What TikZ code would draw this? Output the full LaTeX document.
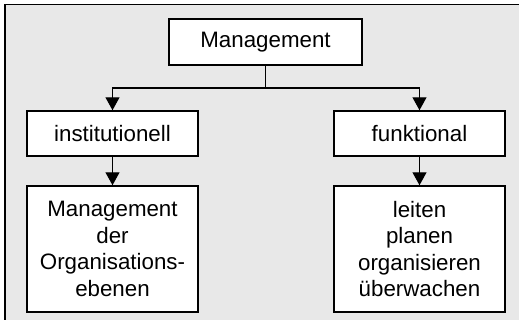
\documentclass[tikz,border=0pt]{standalone}
\usepackage{fontspec}
\setmainfont{Liberation Sans}
\usetikzlibrary{arrows.meta}
\definecolor{panel}{HTML}{E8E8E8}
\begin{document}
\begin{tikzpicture}[x=1bp,y=-1bp,
  box/.style={draw=black, fill=white, line width=1.5bp, inner sep=0pt,
    align=center, font=\fontsize{22.4}{26.5}\selectfont},
  smallbox/.style={box, minimum width=171bp, minimum height=45bp},
  tallbox/.style={box, minimum width=171bp, minimum height=126bp},
  link/.style={line width=1.3bp, draw=black},
  arrow/.style={link, -{Triangle[width=14bp,length=13bp]}}]
  \useasboundingbox (0,0) rectangle (519,320);
  % panel background with rule on top and left
  \fill[panel] (5,4.7) rectangle (519,320);
  \draw[line width=1.3bp] (519,4.7) -- (5,4.7) -- (5,320);

  \node[box, minimum width=193bp, minimum height=46bp] (mgmt) at (265.5,42) {Management};
  \node[smallbox] (inst) at (112.5,133.5) {institutionell};
  \node[smallbox] (funk) at (419.5,133.5) {funktional};
  \node[tallbox] (ebenen) at (112.5,249) {Management\\der\\Organisations-\\ebenen};
  \node[tallbox] (tasks) at (419.5,249) {leiten\\planen\\organisieren\\überwachen};

  \coordinate (split) at (265.5,88);
  \draw[link] (mgmt.south) -- (split);
  \draw[arrow] (split) -| (inst.north);
  \draw[arrow] (split) -| (funk.north);
  \draw[arrow] (inst.south) -- (ebenen.north);
  \draw[arrow] (funk.south) -- (tasks.north);
\end{tikzpicture}
\end{document}
